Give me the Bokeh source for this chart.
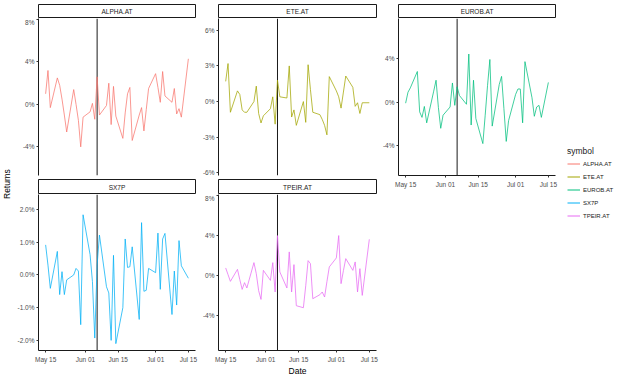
import pandas as pd
from bokeh.plotting import figure
from bokeh.models import (ColumnDataSource, Range1d, FixedTicker, DatetimeTickFormatter,
                          PrintfTickFormatter, Span, Legend, LegendItem, Div)
from bokeh.layouts import row, column
from bokeh.embed import file_html
from bokeh.resources import INLINE
from bokeh.core.properties import value

# ---------------- data ----------------
DATES = ["2019-05-15", "2019-05-16", "2019-05-17",
         "2019-05-20", "2019-05-21", "2019-05-22", "2019-05-23", "2019-05-24",
         "2019-05-27", "2019-05-28", "2019-05-29", "2019-05-30", "2019-05-31",
         "2019-06-03", "2019-06-04", "2019-06-05", "2019-06-06", "2019-06-07",
         "2019-06-10", "2019-06-11", "2019-06-12", "2019-06-13", "2019-06-14",
         "2019-06-17", "2019-06-18", "2019-06-19", "2019-06-20", "2019-06-21",
         "2019-06-24", "2019-06-25", "2019-06-26", "2019-06-27", "2019-06-28",
         "2019-07-01", "2019-07-02", "2019-07-03", "2019-07-04", "2019-07-05",
         "2019-07-08", "2019-07-09", "2019-07-10", "2019-07-11", "2019-07-12",
         "2019-07-15"]

SYMBOLS = ["ALPHA.AT", "ETE.AT", "EUROB.AT", "SX7P", "TPEIR.AT"]

# daily returns, in percent
ALPHA = [1.0, 3.2, -0.3, 2.5, 1.8, 0.5, -1.0, -2.6, 1.4, 0.0, -1.5, -4.0, -1.2,
         -0.7, 0.1, -1.4, 2.6, -1.0, -0.1, 2.0, -1.9, 1.7, -1.1, -3.2, -0.8, 1.0,
         1.6, -3.4, -1.0, -0.3, -2.5, -0.5, 1.5, 2.9, 1.6, 0.2, 3.1, 0.8, 0.2, 1.5,
         -0.9, -0.4, -1.2, 4.3]
ETE = [1.7, 3.2, -0.9, 0.9, 0.6, -0.7, -0.9, -0.9, 0.0, 1.3, -1.0, -1.8, -1.2,
       -0.6, 0.4, -1.9, 1.8, 0.4, 0.3, 3.0, -1.3, -0.7, -2.0, 0.0, -1.75, 3.1,
       1.0, -0.9, -1.1, -1.5, -2.0, -2.8, 2.1, 0.9, 0.4, -0.55, 0.8, 2.15, 1.2,
       -0.4, -0.1, -1.0, -0.1, -0.1]
EUROB = [-0.1, 0.9, 1.3, 2.8, -0.9, -1.4, -0.4, -1.9, 1.0, 2.0, -0.5, -2.4, -1.2,
         -0.45, 1.75, -0.3, 1.4, 0.6, -0.2, 4.4, -2.1, 2.0, -1.5, -3.8, -1.2, 1.5,
         3.9, -2.2, 1.6, 2.35, -0.6, -3.6, -1.7, 0.7, 1.2, 1.2, -1.9, 3.7, 0.4,
         -1.3, -0.45, -0.3, -1.4, 1.8]
SX7P = [0.92, 0.3, -0.41, 0.72, -0.6, 0.1, -0.6, -0.15, 0.0, 0.2, 0.12, -1.52,
        1.84, 0.62, -0.2, -1.93, 0.3, 1.22, -0.36, -0.55, -2.0, 0.6, -2.1, -1.0,
        1.1, 0.23, 0.25, 0.86, -1.36, 1.6, -0.5, -0.47, 0.2, 0.07, 1.28, -0.44,
        1.1, 1.27, -1.21, 0.12, -0.92, 1.05, 0.28, -0.1]
TPEIR = [0.77, 0.1, -0.57, 0.63, -0.4, -1.37, -0.7, -1.23, 1.3, 0.2, -1.5, -2.37,
         0.53, -0.47, 1.3, -1.63, 4.0, 0.37, -1.23, 2.37, -1.63, 1.1, -3.0, -3.2,
         -1.0, 1.5, 1.2, -2.3, -1.9, -1.63, -2.13, -0.6, 0.87, 1.77, 4.0, -0.8,
         0.5, 1.7, 0.53, 1.37, -1.63, 0.7, -1.97, 3.63]

SERIES = [ALPHA, ETE, EUROB, SX7P, TPEIR]
COLORS = ["#F8766D", "#A3A500", "#00BF7D", "#00B0F6", "#E76BF3"]

EVENT_DATE = "2019-06-06"
X_TICKS = ["2019-05-15", "2019-06-01", "2019-06-15", "2019-07-01", "2019-07-15"]

Y_TICKS = {"ALPHA.AT": [-4, 0, 4, 8], "ETE.AT": [-6, -3, 0, 3, 6],
           "EUROB.AT": [-4, 0, 4], "SX7P": [-2, -1, 0, 1, 2],
           "TPEIR.AT": [-4, 0, 4, 8]}
Y_LIMITS = {"ALPHA.AT": (-6.7, 8.1), "ETE.AT": (-6.22, 6.99),
            "EUROB.AT": (-6.72, 7.65), "SX7P": (-2.31, 2.46),
            "TPEIR.AT": (-7.47, 8.1)}
Y_FORMATS = {"ALPHA.AT": "%d%%", "ETE.AT": "%d%%", "EUROB.AT": "%d%%",
             "SX7P": "%.1f%%", "TPEIR.AT": "%d%%"}

# ---------------- styling / geometry ----------------
FONT = "Liberation Sans"
STRIP_H1, STRIP_H2 = 14, 15
FH1, FH2 = 157, 156
TOP = 4
BOTTOM = 24

dates = pd.to_datetime(DATES)
src = ColumnDataSource(dict(date=dates, **{s: v for s, v in zip(SYMBOLS, SERIES)}))
span = dates.max() - dates.min()
X0, X1 = dates.min() - 0.05 * span, dates.max() + 0.05 * span
tick_ms = [pd.Timestamp(t).timestamp() * 1000 for t in X_TICKS]
event_ms = pd.Timestamp(EVENT_DATE).timestamp() * 1000


def base_fig(**kw):
    f = figure(title=None, tools="", toolbar_location=None, output_backend="svg", **kw)
    f.grid.visible = False
    f.xgrid.visible = False
    f.ygrid.visible = False
    return f


def style_axis(ax):
    ax.axis_line_color = "#1A1A1A"
    ax.axis_line_width = 1
    ax.major_tick_line_color = "#333333"
    ax.major_tick_out = 2
    ax.major_tick_in = 0
    ax.minor_tick_line_color = None
    ax.major_label_text_font_size = "6.5px"
    ax.major_label_text_font = FONT
    ax.major_label_text_color = "#4D4D4D"
    ax.major_label_standoff = 2


def make_strip(label, fw, bl, br, fh, top):
    s = base_fig(frame_width=fw, frame_height=fh,
                 min_border_left=bl, min_border_right=br, min_border_top=top, min_border_bottom=0,
                 x_range=Range1d(0, 1), y_range=Range1d(0, 1),
                 x_axis_location=None, y_axis_location=None)
    s.outline_line_color = "#1A1A1A"
    s.outline_line_width = 1
    s.text(x=[0.5], y=[0.5], text=[label], text_align="center", text_baseline="middle",
           text_font_size="6.5px", text_font=value(FONT), text_color="#1A1A1A")
    return s


def make_panel(i, fw, bl, br, bb, fh, show_x, xlabel=None):
    sym = SYMBOLS[i]
    p = base_fig(x_axis_type="datetime",
                 x_axis_location="below" if show_x else None, y_axis_location="left",
                 frame_width=fw, frame_height=fh,
                 min_border_left=bl, min_border_right=br, min_border_top=0, min_border_bottom=bb,
                 x_range=Range1d(X0, X1), y_range=Range1d(*Y_LIMITS[sym]))
    p.outline_line_color = None
    p.add_layout(Span(location=event_ms, dimension="height", line_color="#1A1A1A",
                      line_width=1, level="underlay"))
    p.line(x="date", y=sym, source=src, color=COLORS[i], line_width=0.75)
    ya = p.yaxis[0]
    style_axis(ya)
    ya.ticker = FixedTicker(ticks=Y_TICKS[sym])
    ya.formatter = PrintfTickFormatter(format=Y_FORMATS[sym])
    if show_x:
        xa = p.xaxis[0]
        style_axis(xa)
        xa.major_label_standoff = 3
        xa.ticker = FixedTicker(ticks=tick_ms)
        xa.formatter = DatetimeTickFormatter(days="%b %d", months="%b %d", years="%b %d",
                                             hours="%b %d", minutes="%b %d")
        if xlabel:
            xa.axis_label = xlabel
            xa.axis_label_text_font_size = "8.5px"
            xa.axis_label_text_font = FONT
            xa.axis_label_text_font_style = "normal"
            xa.axis_label_text_color = "black"
            xa.axis_label_standoff = 0
    return p


# columns of facets (ALPHA/SX7P | ETE/TPEIR | EUROB)
c1 = column(make_strip(SYMBOLS[0], 157, 23, 4, STRIP_H1, TOP),
            make_panel(0, 157, 23, 4, 4, FH1, False),
            make_strip(SYMBOLS[3], 157, 23, 4, STRIP_H2, 0),
            make_panel(3, 157, 23, 4, BOTTOM, FH2, True))
c2 = column(make_strip(SYMBOLS[1], 158, 17, 3, STRIP_H1, TOP),
            make_panel(1, 158, 17, 3, 4, FH1, False),
            make_strip(SYMBOLS[4], 158, 17, 3, STRIP_H2, 0),
            make_panel(4, 158, 17, 3, BOTTOM, FH2, True, "Date"))
c3 = column(make_strip(SYMBOLS[2], 157, 17, 5, STRIP_H1, TOP),
            make_panel(2, 157, 17, 5, 14, FH1, True))

# shared y title, centred on the panel area (rows 18..350)
PANEL_MID = (TOP + STRIP_H1 + (TOP + STRIP_H1 + FH1 + 4 + STRIP_H2 + FH2)) // 2
ret = Div(text="Returns", width=14, height=2 * PANEL_MID,
          styles={"writing-mode": "vertical-rl", "transform": "rotate(180deg)",
                  "display": "flex", "align-items": "center", "justify-content": "center",
                  "font-family": FONT, "font-size": "8.5px", "color": "black",
                  "line-height": "1", "margin": "0", "padding": "0"})

# legend
lg = base_fig(frame_width=58, frame_height=226, min_border_left=7, min_border_right=0,
              min_border_top=146, min_border_bottom=0,
              x_axis_location=None, y_axis_location=None)
lg.outline_line_color = None
items = []
for sym, c in zip(SYMBOLS, COLORS):
    r = lg.line(x=[0], y=[0], color=c, line_width=1)
    items.append(LegendItem(label=sym, renderers=[r]))
leg = Legend(items=items, title="symbol", location="top_left", margin=0, padding=0,
             spacing=0, glyph_width=13, glyph_height=13, label_height=13, label_standoff=3,
             label_text_font_size="6px", label_text_font=FONT, label_text_color="#1A1A1A",
             title_text_font_size="8.5px", title_text_font=FONT, title_text_font_style="normal",
             title_text_color="#1A1A1A", title_standoff=1,
             border_line_color=None, background_fill_alpha=0)
lg.add_layout(leg)

layout = row(ret, c1, c2, c3, lg)

open("out.html", "w").write(file_html(layout, INLINE))
